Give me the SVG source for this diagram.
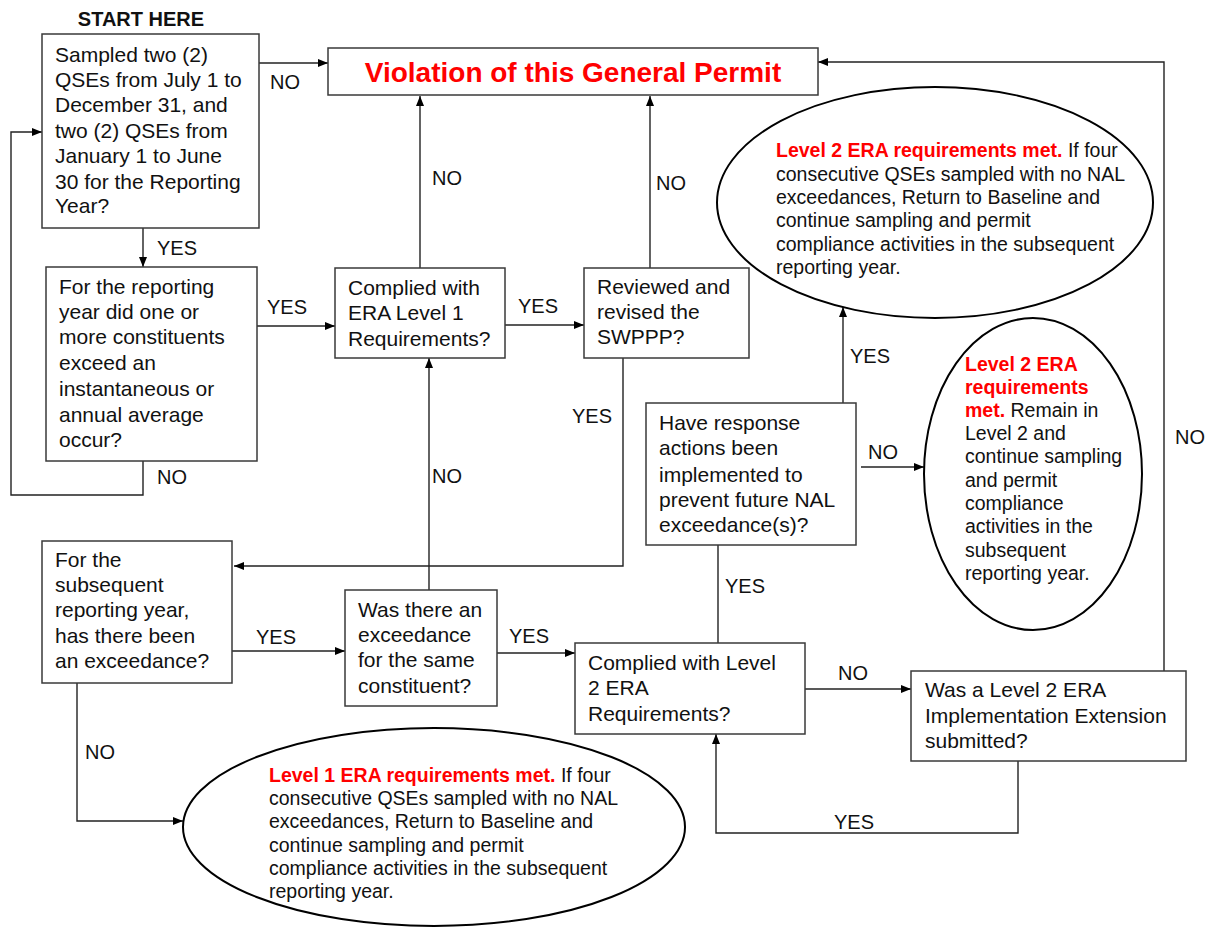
<svg xmlns="http://www.w3.org/2000/svg" width="1212" height="930" viewBox="0 0 1212 930">
<defs>
<style>
text{font-family:"Liberation Sans",Arial,sans-serif;fill:#111}
.bx{fill:#fff;stroke:#3a3a3a;stroke-width:1.5}
.el{fill:#fff;stroke:#000;stroke-width:2}
.t{font-size:21px}
.e{font-size:19.5px}
.lb{font-size:20px}
.r{fill:#ff0000;font-weight:bold}
.c{fill:none;stroke:#222;stroke-width:1.4}
.a{marker-end:url(#ah)}
</style>
<marker id="ah" viewBox="0 0 10 10" refX="10" refY="5" markerWidth="10" markerHeight="10" markerUnits="userSpaceOnUse" orient="auto">
<path d="M0,1 L10,5 L0,9 z" fill="#000"/>
</marker>
</defs>
<rect width="1212" height="930" fill="#fff"/>

<g id="connectors">
<path class="c a" d="M259,63 H328"/>
<path class="c a" d="M143,228 V267"/>
<path class="c a" d="M143,461 V495 H11 V132 H42"/>
<path class="c a" d="M257,326 H335"/>
<path class="c a" d="M420,268 V96"/>
<path class="c a" d="M505,325 H584"/>
<path class="c a" d="M650,268 V96"/>
<path class="c a" d="M623,358 V566 H234"/>
<path class="c a" d="M429,590 V358"/>
<path class="c a" d="M232,651 H345"/>
<path class="c a" d="M497,653 H575"/>
<path class="c a" d="M77,683 V821 H183"/>
<path class="c" d="M718,643 V545"/>
<path class="c a" d="M843,403 V307"/>
<path class="c a" d="M861,467 H924"/>
<path class="c a" d="M805,689 H911"/>
<path class="c a" d="M1018,761 V833 H716 V734"/>
<path class="c a" d="M1164,671 V62 H818"/>
<g class="lb">
<text x="270" y="89">NO</text>
<text x="157" y="255">YES</text>
<text x="157" y="484">NO</text>
<text x="267" y="314">YES</text>
<text x="432" y="185">NO</text>
<text x="656" y="190">NO</text>
<text x="518" y="313">YES</text>
<text x="572" y="423">YES</text>
<text x="432" y="483">NO</text>
<text x="256" y="644">YES</text>
<text x="509" y="643">YES</text>
<text x="725" y="593">YES</text>
<text x="85" y="759">NO</text>
<text x="850" y="363">YES</text>
<text x="868" y="459">NO</text>
<text x="838" y="680">NO</text>
<text x="834" y="829">YES</text>
<text x="1175" y="444">NO</text>
</g>
</g>

<g id="start-label">
<text x="141" y="26" text-anchor="middle" style="font-size:20px;font-weight:bold">START HERE</text>
</g>

<g id="violation">
<rect class="bx" x="328" y="48" width="490" height="47"/>
<text x="573" y="82" text-anchor="middle" style="font-size:28px;font-weight:bold;fill:#ff0000">Violation of this General Permit</text>
</g>

<g id="sampled">
<rect class="bx" x="42" y="34" width="217" height="194"/>
<text class="t" x="55" y="62">Sampled two (2)</text>
<text class="t" x="55" y="87">QSEs from July 1 to</text>
<text class="t" x="55" y="112">December 31, and</text>
<text class="t" x="55" y="138">two (2) QSEs from</text>
<text class="t" x="55" y="163">January 1 to June</text>
<text class="t" x="55" y="189">30 for the Reporting</text>
<text class="t" x="55" y="213">Year?</text>
</g>

<g id="reporting-year">
<rect class="bx" x="46" y="267" width="211" height="194"/>
<text class="t" x="59" y="294">For the reporting</text>
<text class="t" x="59" y="319">year did one or</text>
<text class="t" x="59" y="344">more constituents</text>
<text class="t" x="59" y="370">exceed an</text>
<text class="t" x="59" y="396">instantaneous or</text>
<text class="t" x="59" y="422">annual average</text>
<text class="t" x="59" y="447">occur?</text>
</g>

<g id="era-level1">
<rect class="bx" x="335" y="268" width="170" height="90"/>
<text class="t" x="348" y="295">Complied with</text>
<text class="t" x="348" y="320">ERA Level 1</text>
<text class="t" x="348" y="346">Requirements?</text>
</g>

<g id="swppp">
<rect class="bx" x="584" y="268" width="165" height="90"/>
<text class="t" x="597" y="294">Reviewed and</text>
<text class="t" x="597" y="319">revised the</text>
<text class="t" x="597" y="344">SWPPP?</text>
</g>

<g id="subsequent">
<rect class="bx" x="42" y="541" width="190" height="142"/>
<text class="t" x="55" y="567">For the</text>
<text class="t" x="55" y="592">subsequent</text>
<text class="t" x="55" y="617">reporting year,</text>
<text class="t" x="55" y="643">has there been</text>
<text class="t" x="55" y="668">an exceedance?</text>
</g>

<g id="same-constituent">
<rect class="bx" x="345" y="590" width="152" height="116"/>
<text class="t" x="358" y="617">Was there an</text>
<text class="t" x="358" y="642">exceedance</text>
<text class="t" x="358" y="667">for the same</text>
<text class="t" x="358" y="693">constituent?</text>
</g>

<g id="era-level2">
<rect class="bx" x="575" y="643" width="230" height="91"/>
<text class="t" x="588" y="670">Complied with Level</text>
<text class="t" x="588" y="695">2 ERA</text>
<text class="t" x="588" y="721">Requirements?</text>
</g>

<g id="response-actions">
<rect class="bx" x="646" y="403" width="210" height="142"/>
<text class="t" x="659" y="430">Have response</text>
<text class="t" x="659" y="455">actions been</text>
<text class="t" x="659" y="482">implemented to</text>
<text class="t" x="659" y="507">prevent future NAL</text>
<text class="t" x="659" y="532">exceedance(s)?</text>
</g>

<g id="extension">
<rect class="bx" x="911" y="671" width="275" height="90"/>
<text class="t" x="925" y="697">Was a Level 2 ERA</text>
<text class="t" x="925" y="723">Implementation Extension</text>
<text class="t" x="925" y="748">submitted?</text>
</g>

<g id="level2-met-baseline">
<ellipse class="el" cx="935" cy="202.5" rx="218" ry="115.5"/>
<text class="e" x="776" y="157"><tspan class="r">Level 2 ERA requirements met.</tspan> If four</text>
<text class="e" x="776" y="180.5">consecutive QSEs sampled with no NAL</text>
<text class="e" x="776" y="204">exceedances, Return to Baseline and</text>
<text class="e" x="776" y="227">continue sampling and permit</text>
<text class="e" x="776" y="250.5">compliance activities in the subsequent</text>
<text class="e" x="776" y="274">reporting year.</text>
</g>

<g id="level2-met-remain">
<ellipse class="el" cx="1033" cy="474" rx="109" ry="156"/>
<text class="e" x="965" y="371"><tspan class="r">Level 2 ERA</tspan></text>
<text class="e" x="965" y="394"><tspan class="r">requirements</tspan></text>
<text class="e" x="965" y="417"><tspan class="r">met.</tspan> Remain in</text>
<text class="e" x="965" y="440">Level 2 and</text>
<text class="e" x="965" y="463">continue sampling</text>
<text class="e" x="965" y="487">and permit</text>
<text class="e" x="965" y="510">compliance</text>
<text class="e" x="965" y="533">activities in the</text>
<text class="e" x="965" y="557">subsequent</text>
<text class="e" x="965" y="580">reporting year.</text>
</g>

<g id="level1-met">
<ellipse class="el" cx="434" cy="827" rx="251" ry="99"/>
<text class="e" x="269" y="782"><tspan class="r">Level 1 ERA requirements met.</tspan> If four</text>
<text class="e" x="269" y="805">consecutive QSEs sampled with no NAL</text>
<text class="e" x="269" y="828">exceedances, Return to Baseline and</text>
<text class="e" x="269" y="852">continue sampling and permit</text>
<text class="e" x="269" y="875">compliance activities in the subsequent</text>
<text class="e" x="269" y="898">reporting year.</text>
</g>
</svg>
